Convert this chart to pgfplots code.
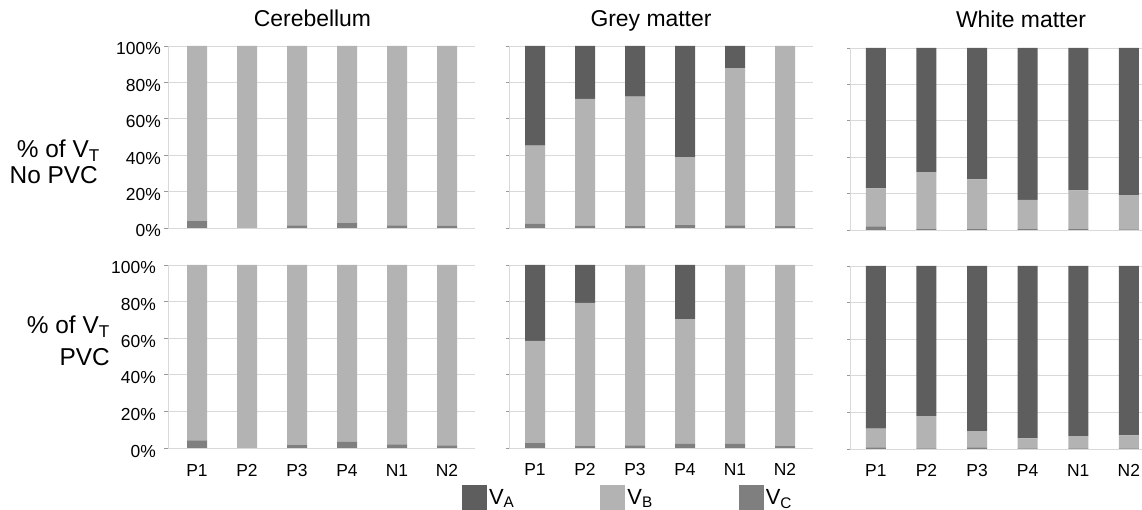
\documentclass[border=0pt]{standalone}
\usepackage{fontspec}
\setmainfont{Liberation Sans}
\usepackage{pgfplots}
\pgfplotsset{compat=1.18}
\definecolor{cA}{HTML}{5E5E5E}
\definecolor{cB}{HTML}{B3B3B3}
\definecolor{cC}{HTML}{7F7F7F}
\definecolor{gridc}{HTML}{D9D9D9}
\pgfplotsset{
  panel/.style={
    scale only axis,
    anchor=south west,
    ybar stacked,
    bar width=20bp,
    ymin=0, ymax=100,
    ytick={0,20,40,60,80,100},
    xtick={0,1,2,3,4,5},
    axis lines*=left,
    axis line style={draw=gridc, line width=0.8bp},
    ymajorgrids,
    grid style={draw=gridc, line width=0.8bp},
    xtick style={draw=none},
    ytick style={draw=gray!80, line width=0.6bp},
    tick align=outside,
    major tick length=4bp,
    yticklabels={},
    xticklabels={},
    tick label style={font=\fontsize{17.5}{18}\selectfont},
    xticklabel style={anchor=base, yshift=-24bp},
    every axis plot/.append style={draw=none},
    title style={font=\fontsize{23}{23}\selectfont, anchor=base, at={(0.5,1)}},
  },
  pct/.style={yticklabels={0\%,20\%,40\%,60\%,80\%,100\%}},
  cats/.style={xticklabels={P1,P2,P3,P4,N1,N2}},
  p1/.style={panel, at={(168bp,#1)}, width=307bp, xmin=-0.58, xmax=5.56},
  p2/.style={panel, at={(509bp,#1)}, width=304bp, xmin=-0.52, xmax=5.56, major tick length=3bp},
  p3/.style={panel, at={(850bp,#1)}, width=292bp, xmin=-0.51, xmax=5.26, major tick length=3bp},
}
\begin{document}
\begin{tikzpicture}
\useasboundingbox (0bp,0bp) rectangle (1142bp,510bp);
% ---------- row 1: no PVC ----------
\begin{axis}[p1=282bp, height=182bp, pct, title={Cerebellum}, title style={yshift=14bp, xshift=-9bp},
  yticklabel style={anchor=east, inner sep=0pt, xshift=-3bp, yshift=-3bp}]
\addplot[fill=cC] coordinates {(0,4) (1,0) (2,1.5) (3,3) (4,1.5) (5,1.2)};
\addplot[fill=cB] coordinates {(0,96) (1,100) (2,98.5) (3,97) (4,98.5) (5,98.8)};
\addplot[fill=cA] coordinates {(0,0) (1,0) (2,0) (3,0) (4,0) (5,0)};
\end{axis}
\begin{axis}[p2=282bp, height=182bp, title={Grey matter}, title style={yshift=14bp, xshift=-10bp}]
\addplot[fill=cC] coordinates {(0,2.2) (1,1.2) (2,1.3) (3,1.6) (4,1.5) (5,1.0)};
\addplot[fill=cB] coordinates {(0,43.1) (1,69.7) (2,70.9) (3,37.3) (4,86.3) (5,99.0)};
\addplot[fill=cA] coordinates {(0,54.7) (1,29.1) (2,27.8) (3,61.1) (4,12.2) (5,0)};
\end{axis}
\begin{axis}[p3=280bp, height=182bp, title={White matter}, title style={yshift=15bp, xshift=25bp}]
\addplot[fill=cC] coordinates {(0,2.0) (1,0.7) (2,0.7) (3,0.7) (4,0.7) (5,0.4)};
\addplot[fill=cB] coordinates {(0,20.9) (1,31.1) (2,27.1) (3,15.9) (4,21.1) (5,18.8)};
\addplot[fill=cA] coordinates {(0,77.1) (1,68.2) (2,72.2) (3,83.4) (4,78.2) (5,80.8)};
\end{axis}
% ---------- row 2: PVC ----------
\begin{axis}[p1=62bp, height=183bp, pct, cats,
  yticklabel style={anchor=east, inner sep=0pt, xshift=-8bp, yshift=-3bp}]
\addplot[fill=cC] coordinates {(0,4.2) (1,0) (2,1.8) (3,3.3) (4,2.0) (5,1.5)};
\addplot[fill=cB] coordinates {(0,95.8) (1,100) (2,98.2) (3,96.7) (4,98.0) (5,98.5)};
\addplot[fill=cA] coordinates {(0,0) (1,0) (2,0) (3,0) (4,0) (5,0)};
\end{axis}
\begin{axis}[p2=62bp, height=183bp, cats,
  reverse legend, legend columns=3,
  legend image code/.code={\fill[#1] (0bp,-12.5bp) rectangle (25bp,12.5bp);},
  legend style={at={(-0.155,-0.202)}, anchor=north west, draw=none, fill=none, inner sep=0pt,
    font=\fontsize{22}{22}\selectfont, nodes={inner sep=2bp},
    /tikz/every even column/.append style={column sep=84bp}}]
\addplot[fill=cC] coordinates {(0,2.7) (1,1.3) (2,1.5) (3,2.2) (4,2.2) (5,1.0)};
\addlegendentry{V\textsubscript{C}}
\addplot[fill=cB] coordinates {(0,55.8) (1,78.0) (2,98.5) (3,68.2) (4,97.8) (5,99.0)};
\addlegendentry{V\textsubscript{B}}
\addplot[fill=cA] coordinates {(0,41.5) (1,20.7) (2,0) (3,29.6) (4,0) (5,0)};
\addlegendentry{V\textsubscript{A}}
\end{axis}
\begin{axis}[p3=61bp, height=183bp, cats]
\addplot[fill=cC] coordinates {(0,0.9) (1,0.3) (2,0.9) (3,0.3) (4,0.3) (5,0.3)};
\addplot[fill=cB] coordinates {(0,10.2) (1,17.7) (2,8.9) (3,5.5) (4,6.8) (5,7.2)};
\addplot[fill=cA] coordinates {(0,88.9) (1,82.0) (2,90.2) (3,94.2) (4,92.9) (5,92.5)};
\end{axis}
% ---------- row labels ----------
\begin{scope}[every node/.style={anchor=base east, inner sep=0pt, font=\fontsize{24.5}{25}\selectfont}]
\node at (100bp,352bp) {\% of V\textsubscript{T}};
\node at (98bp,326bp) {No PVC};
\node at (110bp,176bp) {\% of V\textsubscript{T}};
\node at (110bp,144bp) {PVC};
\end{scope}
\end{tikzpicture}
\end{document}
